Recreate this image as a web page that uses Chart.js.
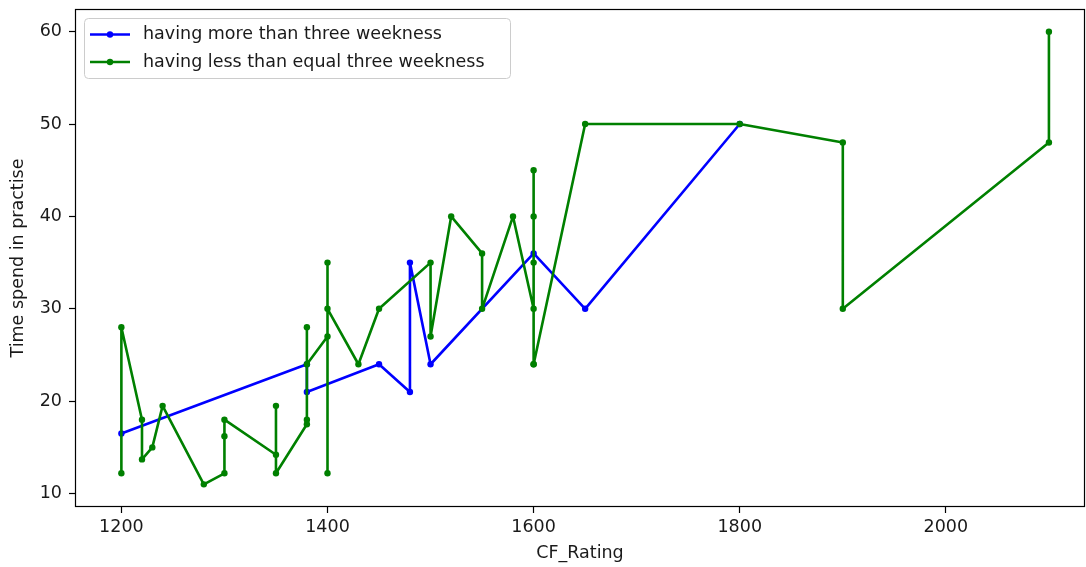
<!DOCTYPE html>
<html>
<head>
<meta charset="utf-8">
<title>CF_Rating vs Time spend in practise</title>
<script src="https://cdn.jsdelivr.net/npm/chart.js@4"></script>
<style>
  html, body { margin: 0; padding: 0; background: #fff; }
  #wrap { width: 1086px; height: 567px; }
</style>
</head>
<body>
<div id="wrap"><canvas id="c" width="1086" height="567"></canvas></div>
<script>
// Series: students with more than three weaknesses
const moreLabel = 'having more than three weekness';
const moreRating = [1200, 1380, 1380, 1450, 1480, 1480, 1500, 1600, 1650, 1800];
const moreTime   = [16.5, 24, 21, 24, 21, 35, 24, 36, 30, 50];

// Series: students with at most three weaknesses
const lessLabel = 'having less than equal three weekness';
const lessRating = [1200, 1200, 1220, 1220, 1230, 1240, 1280, 1300, 1300, 1300,
                    1350, 1350, 1350, 1380, 1380, 1380, 1380, 1400, 1400, 1400, 1400,
                    1430, 1450, 1500, 1500, 1520, 1550, 1550, 1580,
                    1600, 1600, 1600, 1600, 1600, 1600, 1650, 1800, 1900, 1900, 2100, 2100];
const lessTime   = [12.2, 28, 18, 13.7, 15, 19.5, 11, 12.2, 16.2, 18,
                    14.2, 19.5, 12.2, 17.5, 18, 28, 24, 27, 35, 12.2, 30,
                    24, 30, 35, 27, 40, 36, 30, 40,
                    30, 35, 40, 45, 24, 24, 50, 50, 48, 30, 48, 60];

// Axis ticks
const xTicks = [1200, 1400, 1600, 1800, 2000];
const yTicks = [10, 20, 30, 40, 50, 60];

const FONT = 'DejaVu Sans';
const FS = 17.5;
const TEXT = '#1a1a1a';

const toPoints = (xs, ys) => xs.map((x, i) => ({ x: x, y: ys[i] }));

// Boxed frame around the plotting area (all four spines)
const framePlugin = {
  id: 'frame',
  afterDatasetsDraw(chart) {
    const { ctx, chartArea: a } = chart;
    ctx.save();
    ctx.strokeStyle = '#000';
    ctx.lineWidth = 1.2;
    ctx.strokeRect(a.left + 0.5, a.top + 0.5, a.right - a.left - 1, a.bottom - a.top - 1);
    ctx.restore();
  }
};

// Legend with line-and-dot handles in a rounded box
const boxLegend = {
  id: 'boxLegend',
  afterDraw(chart) {
    const { ctx } = chart;
    const sets = chart.data.datasets;
    const x0 = 84.5, y0 = 18.5, w = 426, h = 60, r = 4;
    ctx.save();
    ctx.beginPath();
    ctx.roundRect(x0, y0, w, h, r);
    ctx.fillStyle = 'rgba(255,255,255,0.8)';
    ctx.fill();
    ctx.strokeStyle = '#cccccc';
    ctx.lineWidth = 1;
    ctx.stroke();
    ctx.font = FS + 'px "' + FONT + '"';
    ctx.textBaseline = 'middle';
    ctx.textAlign = 'left';
    sets.forEach((ds, i) => {
      const yy = 34.5 + i * 27.5;
      ctx.strokeStyle = ds.borderColor;
      ctx.lineWidth = 2.6;
      ctx.beginPath();
      ctx.moveTo(90, yy);
      ctx.lineTo(130, yy);
      ctx.stroke();
      ctx.fillStyle = ds.borderColor;
      ctx.beginPath();
      ctx.arc(110, yy, 3.2, 0, Math.PI * 2);
      ctx.fill();
      ctx.fillStyle = TEXT;
      ctx.fillText(ds.label, 143, yy);
    });
    ctx.restore();
  }
};

const axisGrid = {
  display: true,
  drawOnChartArea: false,
  drawTicks: true,
  tickLength: 6,
  tickColor: '#000',
  tickWidth: 1.2
};

new Chart(document.getElementById('c'), {
  type: 'line',
  data: {
    datasets: [
      {
        label: moreLabel,
        data: toPoints(moreRating, moreTime),
        borderColor: '#0000ff',
        backgroundColor: '#0000ff',
        borderWidth: 2.6,
        borderJoinStyle: 'round',
        borderCapStyle: 'round',
        pointRadius: 3.2,
        pointBorderWidth: 0,
        pointHoverRadius: 3.2,
        tension: 0,
        fill: false,
        order: 1
      },
      {
        label: lessLabel,
        data: toPoints(lessRating, lessTime),
        borderColor: '#008000',
        backgroundColor: '#008000',
        borderWidth: 2.6,
        borderJoinStyle: 'round',
        borderCapStyle: 'round',
        pointRadius: 3.2,
        pointBorderWidth: 0,
        pointHoverRadius: 3.2,
        tension: 0,
        fill: false,
        order: 0
      }
    ]
  },
  options: {
    responsive: false,
    animation: false,
    devicePixelRatio: 1,
    layout: { autoPadding: false, padding: { left: 0, top: 9, right: 1, bottom: 0 } },
    plugins: {
      legend: { display: false },
      tooltip: { enabled: false }
    },
    scales: {
      x: {
        type: 'linear',
        min: 1155,
        max: 2135,
        afterBuildTicks: s => { s.ticks = xTicks.map(v => ({ value: v })); },
        afterFit: s => { s.height = 60; s.paddingLeft = 0; s.paddingRight = 0; },
        grid: axisGrid,
        border: { display: false },
        ticks: {
          color: TEXT,
          font: { family: FONT, size: FS },
          padding: 4,
          maxRotation: 0,
          callback: v => String(v)
        },
        title: {
          display: true,
          text: 'CF_Rating',
          color: TEXT,
          font: { family: FONT, size: FS },
          padding: { top: 0, bottom: 3.5 }
        }
      },
      y: {
        type: 'linear',
        min: 8.55,
        max: 62.45,
        afterBuildTicks: s => { s.ticks = yTicks.map(v => ({ value: v })); },
        afterFit: s => { s.width = 75; s.paddingTop = 0; s.paddingBottom = 0; },
        grid: axisGrid,
        border: { display: false },
        ticks: {
          color: TEXT,
          font: { family: FONT, size: FS },
          padding: 7,
          callback: v => String(v)
        },
        title: {
          display: true,
          text: 'Time spend in practise',
          color: TEXT,
          font: { family: FONT, size: FS },
          padding: { top: 7.5, bottom: 0 }
        }
      }
    }
  },
  plugins: [framePlugin, boxLegend]
});
</script>
</body>
</html>
